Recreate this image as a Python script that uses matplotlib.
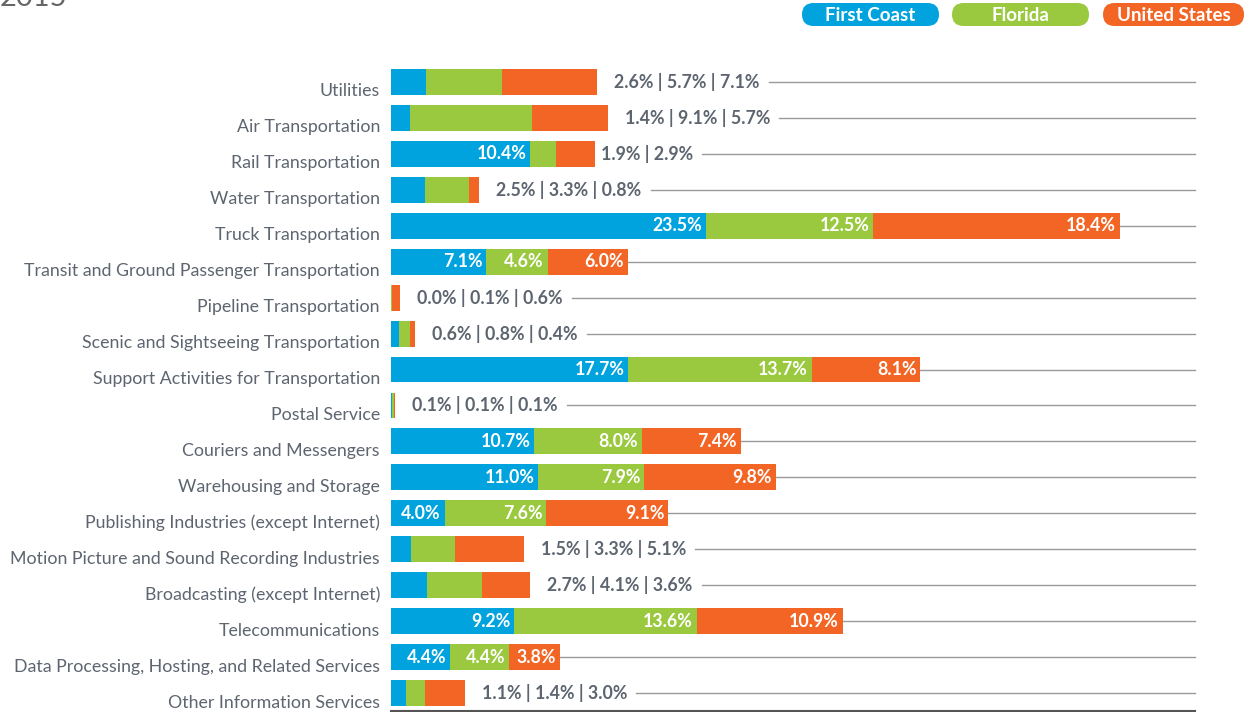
import matplotlib
matplotlib.use('Agg')
import matplotlib.pyplot as plt
from matplotlib.patches import FancyBboxPatch
from matplotlib.transforms import ScaledTranslation
import numpy as np

title = '2015'
series_names = ['First Coast', 'Florida', 'United States']
categories = [
    'Utilities', 'Air Transportation', 'Rail Transportation', 'Water Transportation',
    'Truck Transportation', 'Transit and Ground Passenger Transportation',
    'Pipeline Transportation', 'Scenic and Sightseeing Transportation',
    'Support Activities for Transportation', 'Postal Service', 'Couriers and Messengers',
    'Warehousing and Storage', 'Publishing Industries (except Internet)',
    'Motion Picture and Sound Recording Industries', 'Broadcasting (except Internet)',
    'Telecommunications', 'Data Processing, Hosting, and Related Services',
    'Other Information Services',
]
first_coast = [2.6, 1.4, 10.4, 2.5, 23.5, 7.1, 0.0, 0.6, 17.7, 0.1, 10.7, 11.0, 4.0, 1.5, 2.7, 9.2, 4.4, 1.1]
florida = [5.7, 9.1, 1.9, 3.3, 12.5, 4.6, 0.1, 0.8, 13.7, 0.1, 8.0, 7.9, 7.6, 3.3, 4.1, 13.6, 4.4, 1.4]
united_states = [7.1, 5.7, 2.9, 0.8, 18.4, 6.0, 0.6, 0.4, 8.1, 0.1, 7.4, 9.8, 9.1, 5.1, 3.6, 10.9, 3.8, 3.0]

colors = ['#00A3DD', '#9AC93F', '#F26524']
text_gray = '#5d6570'
plt.rcParams['font.family'] = ['Lato', 'DejaVu Sans']

W, H = 1244, 712
fig = plt.figure(figsize=(W / 100, H / 100), dpi=100)
ax = fig.add_axes([391 / W, 1 - 711 / H, (1195 - 391) / W, (711 - 64) / H])

n = len(categories)
y = np.arange(n)
data = np.array([first_coast, florida, united_states])
left = np.zeros(n)
for k in range(3):
    ax.barh(y, data[k], left=left, height=0.72, color=colors[k], linewidth=0, zorder=3)
    left += data[k]
totals = left.copy()

ax.set_xlim(0, 60)
ax.set_ylim(n - 0.5, -0.5)
for s in ['top', 'right', 'left']:
    ax.spines[s].set_visible(False)
ax.spines['bottom'].set_color('#555555')
ax.spines['bottom'].set_linewidth(1.5)
ax.set_xticks([])
ax.set_yticks(y, categories)
ax.tick_params(axis='y', length=0, pad=8, labelsize=12.8, labelcolor=text_gray)
down = ScaledTranslation(0, -8 / 100, fig.dpi_scale_trans)
for lab in ax.get_yticklabels():
    lab.set_transform(lab.get_transform() + down)

def px(dx):
    return ax.transData + ScaledTranslation(dx / 100, 0, fig.dpi_scale_trans)

outside_texts = {}
for i in range(n):
    vals = data[:, i]
    cum = 0.0
    inside = True
    rest = []
    for k in range(3):
        v = vals[k]
        cum += v
        if inside and v >= 3.5:
            ax.text(cum, i, f'{v:.1f}%', ha='right', va='center', color='white',
                    fontsize=12.8, fontweight='bold', transform=px(-4), zorder=4)
        else:
            inside = False
            rest.append(f'{v:.1f}%')
    if rest:
        off = 6 if len(rest) < 3 else 17
        t = ax.text(totals[i], i, ' | '.join(rest), ha='left', va='center', color=text_gray,
                    fontsize=12.8, fontweight='bold', transform=px(off), zorder=4)
        outside_texts[i] = t

fig.canvas.draw()
renderer = fig.canvas.get_renderer()
inv = ax.transData.inverted()
for i in range(n):
    if i in outside_texts:
        bb = outside_texts[i].get_window_extent(renderer)
        x0 = inv.transform((bb.x1 + 9, 0))[0]
    else:
        x0 = totals[i]
    ax.plot([x0, 60], [i, i], color='#9a9a9a', lw=1, zorder=1, clip_on=False)

ov = fig.add_axes([0, 0, 1, 1], facecolor='none')
ov.set_xlim(0, W)
ov.set_ylim(H, 0)
ov.axis('off')
ov.text(0, 6, title, fontsize=21, color='#666666', ha='left', va='baseline')
pill_x = [802, 952, 1103]
for k, name in enumerate(series_names):
    x0 = pill_x[k]
    w = 137 if k < 2 else 141
    ov.add_patch(FancyBboxPatch((x0, 3), w, 23, boxstyle='round,pad=0,rounding_size=11.5',
                                facecolor=colors[k], edgecolor='none'))
    ov.text(x0 + w / 2, 15.5, name, ha='center', va='center', color='white',
            fontsize=13.5, fontweight='bold')

fig.savefig('out.png', dpi=100)
